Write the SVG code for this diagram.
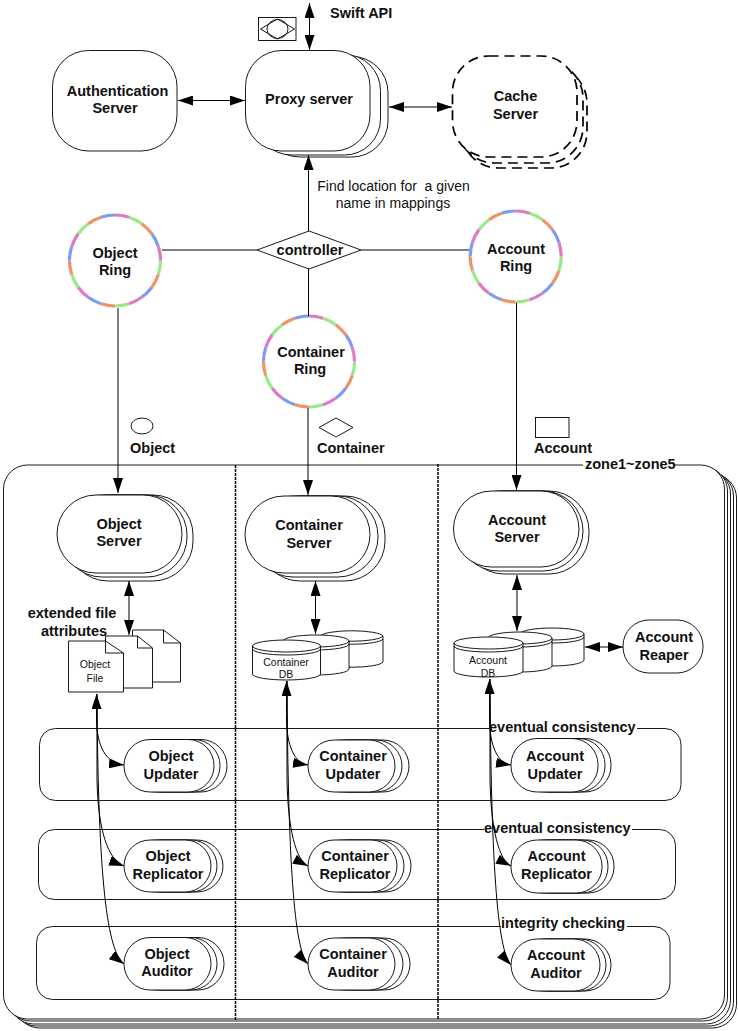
<svg xmlns="http://www.w3.org/2000/svg" width="738" height="1031" viewBox="0 0 738 1031">
<style>
text{font-family:"Liberation Sans",Arial,sans-serif;font-size:14.5px;font-weight:bold;fill:#111;text-anchor:middle}
.s{text-anchor:start}
.r{font-weight:normal;font-size:14px;white-space:pre}
.t{font-size:10.5px;font-weight:normal}
.n{fill:#fff;stroke:#000;stroke-width:.9}
.d{fill:#fff;stroke:#000;stroke-width:1.7;stroke-dasharray:10 6}
.l{fill:none;stroke:#000;stroke-width:.9}
.v{fill:none;stroke:#000;stroke-width:1.5;stroke-dasharray:3 1}
.w{fill:#fff;stroke:none}
.c{fill:none;stroke:#000;stroke-width:1}
.a{marker-end:url(#h)}
.b{marker-end:url(#h);marker-start:url(#h)}
.g{fill:none;stroke-width:3.2;stroke-dasharray:1 3}
</style>
<defs>
<marker id="h" markerUnits="userSpaceOnUse" viewBox="0 0 15 10" refX="15" refY="5" markerWidth="15" markerHeight="10" orient="auto-start-reverse"><path d="M0 0L15 5L0 10Z" fill="#000"/></marker>
<g id="ring">
<circle r="45.5" fill="#fff"/>
<circle r="45.5" class="g" pathLength="20" stroke="#98ea88"/>
<circle r="45.5" class="g" pathLength="20" stroke="#f09468" stroke-dashoffset="-1"/>
<circle r="45.5" class="g" pathLength="20" stroke="#7c9cf0" stroke-dashoffset="-2"/>
<circle r="45.5" class="g" pathLength="20" stroke="#e078c4" stroke-dashoffset="-3"/>
</g>
</defs>

<g id="zones">
<rect class="n" x="15.500" y="474" width="721" height="554" rx="24"/>
<rect class="n" x="12.500" y="472" width="721" height="554" rx="24"/>
<rect class="n" x="9.500" y="470" width="721" height="554" rx="24"/>
<rect class="n" x="6.500" y="467" width="721" height="554" rx="24"/>
<rect class="n" x="3.500" y="465" width="721" height="554" rx="24"/>
<rect class="w" x="583" y="458" width="91" height="14"/>
<text class="s" x="585" y="469">zone1~zone5</text>
</g>
<g id="rows">
<rect class="n" x="39.500" y="728.500" width="641.500" height="72" rx="16"/>
<rect class="n" x="38.500" y="829.500" width="637" height="70" rx="16"/>
<rect class="n" x="36.500" y="926.500" width="633.500" height="73" rx="16"/>
<rect class="w" x="489" y="720" width="148" height="14"/>
<rect class="w" x="484" y="821" width="148" height="14"/>
<rect class="w" x="501" y="918" width="126" height="14"/>
<text class="s" x="489" y="732">eventual consistency</text>
<text class="s" x="484" y="833">eventual consistency</text>
<text class="s" x="501" y="928">integrity checking</text>
</g>
<g id="dividers">
<path class="v" d="M235.500 465V1020"/>
<path class="v" d="M438 464V1020"/>
</g>

<g id="legend">
<rect class="n" x="258.500" y="17.500" width="37.500" height="23"/>
<path class="l" d="M260.500 29L277.500 19L294.500 29L277.500 39Z"/>
<ellipse class="l" cx="277.500" cy="29" rx="10.500" ry="9.500"/>
<ellipse class="n" cx="142" cy="426" rx="11" ry="8"/>
<path class="n" d="M319 427.500L336 418L353 427.500L336 437Z"/>
<rect class="n" x="535.500" y="417.500" width="33.500" height="20"/>
<text class="s" x="330" y="18">Swift API</text>
<text class="s" x="130" y="453">Object</text>
<text class="s" x="317" y="453">Container</text>
<text class="s" x="534" y="453">Account</text>
<text class="r" x="393.500" y="191">Find location for  a given</text>
<text class="r" x="393" y="208">name in mappings</text>
</g>

<g id="auth-server">
<rect class="n" x="52.500" y="50.500" width="124.500" height="100.500" rx="36"/>
<text x="117.500" y="96">Authentication</text>
<text x="115" y="113">Server</text>
</g>
<g id="proxy-server">
<rect class="n" x="263.500" y="56.500" width="124.500" height="100.500" rx="36"/>
<rect class="n" x="255.500" y="54.500" width="125" height="100.500" rx="36"/>
<rect class="n" x="245.500" y="50.500" width="124.500" height="100.500" rx="36"/>
<text x="309" y="104">Proxy server</text>
</g>
<g id="cache-server">
<rect class="d" x="462" y="67" width="125" height="101" rx="36"/>
<rect class="d" x="458" y="62" width="125" height="101" rx="36"/>
<rect class="d" x="452.500" y="56" width="124.500" height="101" rx="36"/>
<text x="515.500" y="101">Cache</text>
<text x="515.500" y="119">Server</text>
</g>
<g id="controller">
<path class="n" d="M257 250L309 231L361 250L309 269Z"/>
<text x="310" y="255">controller</text>
</g>
<g id="object-ring">
<use href="#ring" x="115" y="260.500"/>
<text x="115" y="258">Object</text>
<text x="115" y="275">Ring</text>
</g>
<g id="account-ring">
<use href="#ring" x="515.700" y="256.500"/>
<text x="516" y="254">Account</text>
<text x="516" y="271">Ring</text>
</g>
<g id="container-ring">
<use href="#ring" x="309" y="361.500"/>
<text x="311" y="357">Container</text>
<text x="310" y="374">Ring</text>
</g>

<g id="object-server">
<rect class="n" x="68" y="495" width="125" height="86" rx="40"/>
<rect class="n" x="62" y="495" width="125" height="82" rx="40"/>
<rect class="n" x="57" y="495" width="125" height="78" rx="39"/>
<text x="119" y="529">Object</text>
<text x="119" y="546">Server</text>
</g>
<g id="container-server">
<rect class="n" x="260" y="496" width="125" height="85" rx="40"/>
<rect class="n" x="253" y="496" width="125" height="81" rx="40"/>
<rect class="n" x="245" y="496" width="125" height="77" rx="39"/>
<text x="309" y="530">Container</text>
<text x="309" y="548">Server</text>
</g>
<g id="account-server">
<rect class="n" x="464" y="491" width="125" height="83" rx="40"/>
<rect class="n" x="458" y="491" width="125" height="80" rx="40"/>
<rect class="n" x="453.500" y="491" width="125.500" height="76" rx="38"/>
<text x="517" y="525">Account</text>
<text x="517" y="542">Server</text>
</g>

<g id="object-file">
<path class="n" d="M132.500 630H163.500L180.500 643V682H132.500Z"/>
<path class="l" d="M163.500 630V643H180.500"/>
<path class="n" d="M105.500 636H137.500L152.500 648V688H105.500Z"/>
<path class="l" d="M137.500 636V648H152.500"/>
<path class="n" d="M68.500 641H105.500L123.500 653V692H68.500Z"/>
<path class="l" d="M105.500 641V653H123.500"/>
<text x="72" y="617.500">extended file</text>
<text x="74" y="636">attributes</text>
<text class="t" x="95" y="668">Object</text>
<text class="t" x="95" y="682">File</text>
</g>
<g id="container-db">
<path class="n" d="M320.500 636A31.500 6 0 0 1 383 636V662A31.500 6 0 0 1 320.500 662Z"/>
<path class="l" d="M320.500 636A31.500 6 0 0 0 383 636M320.500 639A31.500 6 0 0 0 383 639"/>
<path class="n" d="M283 641A33 6 0 0 1 349 641V669A33 6 0 0 1 283 669Z"/>
<path class="l" d="M283 641A33 6 0 0 0 349 641M283 644A33 6 0 0 0 349 644"/>
<path class="n" d="M252.500 646A34 6 0 0 1 320.500 646V674A34 6 0 0 1 252.500 674Z"/>
<path class="l" d="M252.500 646A34 6 0 0 0 320.500 646M252.500 649A34 6 0 0 0 320.500 649"/>
<text class="t" x="286" y="666">Container</text>
<text class="t" x="286" y="678">DB</text>
</g>
<g id="account-db">
<path class="n" d="M520 634A32 6 0 0 1 584 634V660A32 6 0 0 1 520 660Z"/>
<path class="l" d="M520 634A32 6 0 0 0 584 634M520 637A32 6 0 0 0 584 637"/>
<path class="n" d="M488 638A32 6 0 0 1 552 638V666A32 6 0 0 1 488 666Z"/>
<path class="l" d="M488 638A32 6 0 0 0 552 638M488 641A32 6 0 0 0 552 641"/>
<path class="n" d="M454 643A34.500 6 0 0 1 523 643V671A34.500 6 0 0 1 454 671Z"/>
<path class="l" d="M454 643A34.500 6 0 0 0 523 643M454 646A34.500 6 0 0 0 523 646"/>
<text class="t" x="488" y="664">Account</text>
<text class="t" x="488" y="677">DB</text>
</g>
<g id="account-reaper">
<rect class="n" x="623" y="620" width="80" height="53" rx="26"/>
<text x="664" y="642">Account</text>
<text x="664" y="660">Reaper</text>
</g>

<g id="object-updater">
<rect class="n" x="136" y="739.500" width="91" height="52.500" rx="26"/>
<rect class="n" x="130" y="739.500" width="90" height="52.500" rx="26"/>
<rect class="n" x="124" y="739.500" width="90" height="52.500" rx="26"/>
<text x="171" y="761">Object</text>
<text x="171" y="779">Updater</text>
</g>
<g id="object-replicator">
<rect class="n" x="136" y="840" width="87" height="52" rx="26"/>
<rect class="n" x="130" y="840" width="87" height="52" rx="26"/>
<rect class="n" x="124" y="840" width="87" height="52" rx="26"/>
<text x="168" y="861">Object</text>
<text x="168" y="879">Replicator</text>
</g>
<g id="object-auditor">
<rect class="n" x="137" y="937.500" width="87" height="52.500" rx="26"/>
<rect class="n" x="130" y="937.500" width="87" height="52.500" rx="26"/>
<rect class="n" x="124" y="937.500" width="87" height="52.500" rx="26"/>
<text x="167" y="959">Object</text>
<text x="167" y="976">Auditor</text>
</g>
<g id="container-updater">
<rect class="n" x="322" y="740" width="87" height="52" rx="26"/>
<rect class="n" x="315" y="740" width="87" height="52" rx="26"/>
<rect class="n" x="308" y="740" width="87" height="52" rx="26"/>
<text x="353" y="761">Container</text>
<text x="353" y="779">Updater</text>
</g>
<g id="container-replicator">
<rect class="n" x="322" y="840" width="89" height="52" rx="26"/>
<rect class="n" x="315" y="840" width="89" height="52" rx="26"/>
<rect class="n" x="308" y="840" width="89" height="52" rx="26"/>
<text x="355" y="861">Container</text>
<text x="355" y="879">Replicator</text>
</g>
<g id="container-auditor">
<rect class="n" x="323" y="938" width="87" height="52" rx="26"/>
<rect class="n" x="316" y="938" width="87" height="52" rx="26"/>
<rect class="n" x="308" y="938" width="87" height="52" rx="26"/>
<text x="353" y="959">Container</text>
<text x="353" y="977">Auditor</text>
</g>
<g id="account-updater">
<rect class="n" x="524" y="738.500" width="87" height="53.500" rx="26"/>
<rect class="n" x="518" y="738.500" width="87" height="53.500" rx="26"/>
<rect class="n" x="511" y="738.500" width="87" height="53.500" rx="26"/>
<text x="555" y="761">Account</text>
<text x="555" y="779">Updater</text>
</g>
<g id="account-replicator">
<rect class="n" x="523" y="840" width="91" height="53" rx="26"/>
<rect class="n" x="517" y="840" width="91" height="53" rx="26"/>
<rect class="n" x="511" y="840" width="91" height="53" rx="26"/>
<text x="556.500" y="861">Account</text>
<text x="556.500" y="879">Replicator</text>
</g>
<g id="account-auditor">
<rect class="n" x="522" y="939" width="89" height="52" rx="26"/>
<rect class="n" x="517" y="939" width="89" height="52" rx="26"/>
<rect class="n" x="511" y="939" width="89" height="52" rx="26"/>
<text x="556" y="960">Account</text>
<text x="556" y="978">Auditor</text>
</g>

<g id="connectors">
<path class="c b" d="M309.500 3V50"/>
<path class="c b" d="M178 100.500H245"/>
<path class="c b" d="M389 107H452"/>
<path class="c a" d="M308.500 231V155"/>
<path class="c" d="M162 250H257M361 250H469M308.500 269V316"/>
<path class="c a" d="M118 308V493"/>
<path class="c a" d="M308 408V495"/>
<path class="c a" d="M516.500 303V490"/>
<path class="c b" d="M129 581V635"/>
<path class="c b" d="M315.500 581V634"/>
<path class="c b" d="M517 575V631"/>
<path class="c b" d="M585 647H623"/>
<path class="c b" d="M96.500 694V720C97 745 105 763 124 765"/>
<path class="c a" d="M97 694V780C98 830 108 860 124 866"/>
<path class="c a" d="M97 694C98 860 105 950 124 964"/>
<path class="c b" d="M286.500 681V720C287 745 294 763 308 765"/>
<path class="c a" d="M287 681V780C288 830 296 860 308 866"/>
<path class="c a" d="M287 681C288 860 294 950 308 964"/>
<path class="c b" d="M489.500 679V720C490 745 497 763 511 765"/>
<path class="c a" d="M490 679V780C491 830 499 860 511 866"/>
<path class="c a" d="M490 679C491 860 497 950 511 965"/>
</g>
</svg>
